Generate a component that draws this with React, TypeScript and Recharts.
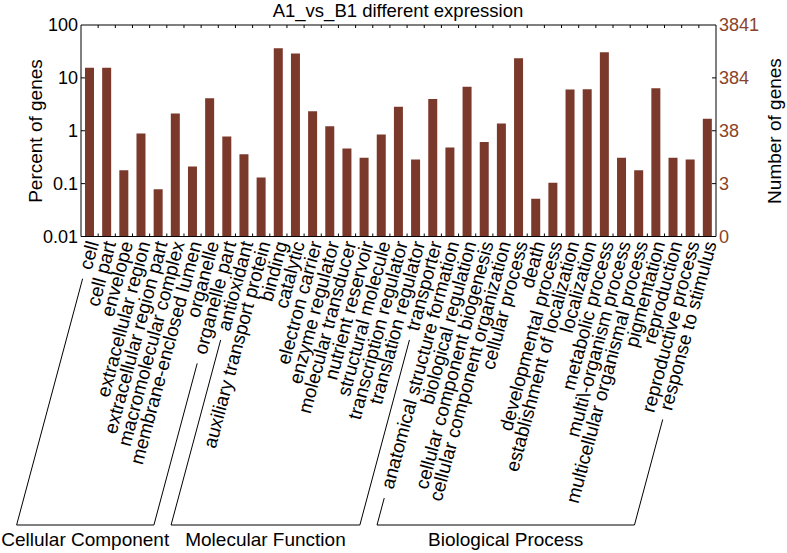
import { BarChart, Bar, XAxis, YAxis, ReferenceLine } from "recharts"

const categories = [
  "cell", "cell part", "envelope", "extracellular region", "extracellular region part",
  "macromolecular complex", "membrane-enclosed lumen", "organelle", "organelle part",
  "antioxidant", "auxiliary transport protein", "binding", "catalytic", "electron carrier",
  "enzyme regulator", "molecular transducer", "nutrient reservoir", "structural molecule",
  "transcription regulator", "translation regulator", "transporter",
  "anatomical structure formation", "biological regulation", "cellular component biogenesis",
  "cellular component organization", "cellular process", "death", "developmental process",
  "establishment of localization", "localization", "metabolic process",
  "multi\\-organism process", "multicellular organismal process", "pigmentation",
  "reproduction", "reproductive process", "response to stimulus",
]

// percent of genes
const percents = [
  15.6, 15.6, 0.18, 0.89, 0.078, 2.12, 0.21, 4.14, 0.78,
  0.36, 0.13, 36.3, 28.8, 2.35, 1.22, 0.46, 0.31, 0.85, 2.84, 0.286, 4.0,
  0.48, 6.76, 0.61, 1.37, 23.5, 0.052, 0.104, 6.02, 6.1, 30.5, 0.31, 0.18, 6.39, 0.31, 0.286, 1.68,
]

const groupNames = ["Cellular Component", "Molecular Function", "Biological Process"]
const groupSizes = [9, 12, 16]

const percentTicks = [0.01, 0.1, 1, 10, 100]
const percentTickLabels = ["0.01", "0.1", "1", "10", "100"]
const geneTickLabels = ["0", "3", "38", "384", "3841"]

const W = 787
const H = 553
const TOP = 25
const LEFT_W = 81
const RIGHT_W = 71
const X_AXIS_H = 316.5
const STEP = (W - LEFT_W - RIGHT_W) / categories.length
const FONT = '"Liberation Sans", Arial, Helvetica, sans-serif'
const LABEL_SIZE = 19
const ANGLE = 75
const BRACKET_Y = 525
const BAR_COLOR = "#7b392b"
const GENE_COLOR = "#8a4328"

const data = categories.map((name, i) => ({ name, pct: percents[i] }))

const groups = groupNames.map((name, g) => {
  const start = groupSizes.slice(0, g).reduce((s, n) => s + n, 0)
  return { name, start, end: start + groupSizes[g] - 1 }
})

let ctx: CanvasRenderingContext2D | null = null
const textWidth = (s: string) => {
  if (!ctx) ctx = document.createElement("canvas").getContext("2d")
  ctx!.font = `${LABEL_SIZE}px ${FONT}`
  return ctx!.measureText(s).width
}

const cos = Math.cos((ANGLE * Math.PI) / 180)
const sin = Math.sin((ANGLE * Math.PI) / 180)

// where a bracket leaves a rotated label, and where it meets the bottom line
const bracketFrom = (x: number, y: number, label: string) => {
  const d = textWidth(label) + 10
  const sx = x + 3 - cos * d
  const sy = y + 5 + sin * d
  const bx = sx - ((BRACKET_Y - sy) * cos) / sin
  return { sx, sy, bx }
}

const CategoryTick = (props: any) => {
  const { x, y, payload, index } = props
  const label = payload.value
  const ax = x + 3
  const ay = y + 5
  const last = index === categories.length - 1
  const bx = x + STEP / 2
  const parts = []

  const gs = groups.find((g) => g.start === index)
  if (gs) {
    const b = bracketFrom(x, y, label)
    parts.push(<line key="l" x1={b.sx} y1={b.sy} x2={b.bx} y2={BRACKET_Y} stroke="#000" />)
  }
  const ge = groups.find((g) => g.end === index)
  if (ge) {
    const b = bracketFrom(x, y, label)
    const first = bracketFrom(x - (ge.end - ge.start) * STEP, y, categories[ge.start])
    parts.push(<line key="r" x1={b.sx} y1={b.sy} x2={b.bx} y2={BRACKET_Y} stroke="#000" />)
    parts.push(<line key="h" x1={first.bx} y1={BRACKET_Y} x2={b.bx} y2={BRACKET_Y} stroke="#000" />)
    parts.push(
      <text key="t" x={(first.bx + b.bx) / 2} y={BRACKET_Y + 21} textAnchor="middle"
        fontSize={LABEL_SIZE} fontFamily={FONT} fill="#000">{ge.name}</text>
    )
  }

  return (
    <g>
      {!last && <line x1={bx} x2={bx} y1={y} y2={y - 3} stroke="#000" />}
      {!last && <line x1={bx} x2={bx} y1={TOP} y2={TOP + 3} stroke="#000" />}
      <text transform={`rotate(-${ANGLE}, ${ax}, ${ay})`} x={ax} y={ay} dy="0.35em" textAnchor="end"
        fontSize={LABEL_SIZE} fontFamily={FONT} fill="#000">{label}</text>
      {parts}
    </g>
  )
}

const PercentTick = (props: any) => {
  const { x, y, payload } = props
  const i = percentTicks.indexOf(payload.value)
  return (
    <g>
      {i > 0 && i < percentTicks.length - 1 && <line x1={x} x2={x + 4} y1={y} y2={y} stroke="#000" />}
      <text x={x - 3} y={y} dy="0.35em" textAnchor="end" fontSize={18} fontFamily={FONT} fill="#000">
        {percentTickLabels[i]}
      </text>
    </g>
  )
}

const GeneTick = (props: any) => {
  const { x, y, payload } = props
  const i = percentTicks.indexOf(payload.value)
  return (
    <g>
      {i > 0 && i < percentTicks.length - 1 && <line x1={x} x2={x - 4} y1={y} y2={y} stroke="#000" />}
      <text x={x + 3} y={y} dy="0.35em" textAnchor="start" fontSize={18} fontFamily={FONT} fill={GENE_COLOR}>
        {geneTickLabels[i]}
      </text>
    </g>
  )
}

const App = () => {
  return (
    <div style={{ position: "absolute", left: 0, top: 0, width: W, height: H, background: "#fff" }}>
      <BarChart width={W} height={H} data={data} margin={{ top: TOP, right: 0, bottom: 0, left: 0 }}>
        <XAxis dataKey="name" height={X_AXIS_H} interval={0} tickSize={0} tickMargin={0}
          axisLine={{ stroke: "#000" }} tick={<CategoryTick />} />
        <YAxis yAxisId="left" type="number" scale="log" domain={[0.01, 100]} allowDataOverflow
          ticks={percentTicks} width={LEFT_W} tickSize={0} tickMargin={0}
          axisLine={{ stroke: "#000" }} tick={<PercentTick />} />
        <YAxis yAxisId="right" orientation="right" type="number" scale="log" domain={[0.01, 100]}
          allowDataOverflow ticks={percentTicks} width={RIGHT_W} tickSize={0} tickMargin={0}
          axisLine={{ stroke: "#000" }} tick={<GeneTick />} />
        <ReferenceLine yAxisId="left" y={100} stroke="#000" />
        <Bar yAxisId="left" dataKey="pct" fill={BAR_COLOR} barSize={9} isAnimationActive={false} />
        <text x={398} y={17} textAnchor="middle" fontSize={18.5} fontFamily={FONT} fill="#000">
          A1_vs_B1 different expression
        </text>
        <text x={35} y={131} transform="rotate(-90, 35, 131)" dy="0.35em" textAnchor="middle"
          fontSize={LABEL_SIZE} fontFamily={FONT} fill="#000">Percent of genes</text>
        <text x={774} y={131} transform="rotate(-90, 774, 131)" dy="0.35em" textAnchor="middle"
          fontSize={LABEL_SIZE} fontFamily={FONT} fill="#000">Number of genes</text>
      </BarChart>
    </div>
  )
}

export default App
